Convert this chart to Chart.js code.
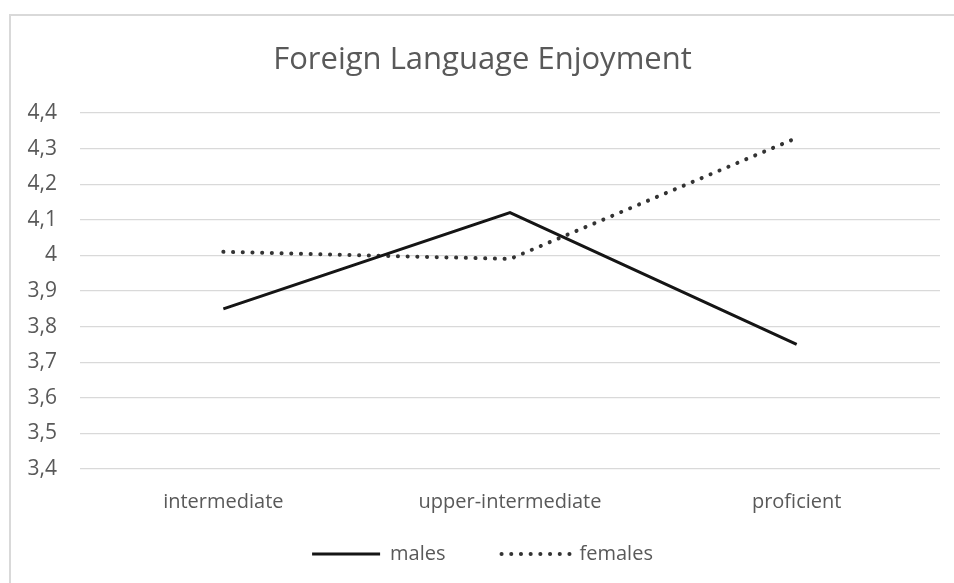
<!DOCTYPE html>
<html>
<head>
<meta charset="utf-8">
<script src="https://cdn.jsdelivr.net/npm/chart.js@4.4.0/dist/chart.umd.min.js"></script>
<style>
    html, body { margin: 0; padding: 0; background: #fff; overflow: hidden; width: 954px; height: 583px; }
    #frame { position: absolute; left: 9px; top: 14px; border: 2px solid #d9d9d9; width: 954px; height: 583px; background: #fff; }
    canvas { display: block; }
</style>
</head>
<body>
<div id="frame">
    <canvas id="chart" width="954" height="583"></canvas>
</div>
<script>
// values
var levels = ['intermediate', 'upper-intermediate', 'proficient'];
var males = [3.85, 4.12, 3.75];
var females = [4.01, 3.99, 4.33];
var yTickValues = [3.4, 3.5, 3.6, 3.7, 3.8, 3.9, 4.0, 4.1, 4.2, 4.3, 4.4];
var yTickLabels = ['3,4', '3,5', '3,6', '3,7', '3,8', '3,9', '4', '4,1', '4,2', '4,3', '4,4'];

const textColor = '#595959';
const fontName = "'Open Sans', sans-serif";

ctx = document.getElementById('chart');
new Chart(ctx, {
    type: 'line',
    data: {
        labels: levels,
        datasets: [
            {
                label: 'males',
                data: males,
                borderColor: '#151515',
                backgroundColor: '#151515',
                borderWidth: 3,
                pointRadius: 0,
                tension: 0
            },
            {
                label: 'females',
                data: females,
                borderColor: '#333333',
                backgroundColor: '#333333',
                borderWidth: 4,
                borderDash: [0.1, 9.6],
                borderCapStyle: 'round',
                pointRadius: 0,
                tension: 0
            }
        ]
    },
    options: {
        responsive: false,
        animation: false,
        layout: {
            padding: { left: 14, right: 25, top: 0, bottom: 25 }
        },
        plugins: {
            title: {
                display: true,
                text: 'Foreign Language Enjoyment',
                color: textColor,
                font: { family: fontName, size: 31, weight: 'normal' },
                padding: { top: 25.4, bottom: 34.4 }
            },
            legend: {
                position: 'bottom',
                labels: {
                    color: textColor,
                    font: { family: fontName, size: 20 },
                    usePointStyle: true,
                    pointStyle: 'line',
                    pointStyleWidth: 68,
                    padding: 30,
                    generateLabels: function (chart) {
                        let items = Chart.defaults.plugins.legend.labels.generateLabels(chart);
                        items.forEach(function (item, i) {
                            let ds = chart.data.datasets[i];
                            item.strokeStyle = ds.borderColor;
                            item.lineWidth = ds.borderWidth;
                            item.lineDash = ds.borderDash || [];
                            item.lineCap = ds.borderCapStyle || 'butt';
                        });
                        // extra room after the first entry, like the gap in the original legend
                        items[0].text = items[0].text + '     ';
                        return items;
                    }
                }
            },
            tooltip: { enabled: false }
        },
        scales: {
            x: {
                offset: true,
                grid: { display: false, drawTicks: false },
                border: { display: false },
                ticks: {
                    color: textColor,
                    font: { family: fontName, size: 20 },
                    padding: 21,
                    maxRotation: 0
                },
                afterFit: function (scale) {
                    scale.height = 45;
                }
            },
            y: {
                min: 3.4,
                max: 4.4,
                grid: { color: '#d9d9d9', lineWidth: 1.3, drawTicks: false },
                border: { display: false },
                ticks: {
                    color: textColor,
                    font: { family: fontName, size: 21 },
                    padding: 23,
                    callback: function (value, index) {
                        return yTickLabels[index];
                    }
                },
                afterBuildTicks: function (scale) {
                    scale.ticks = yTickValues.map(function (v) { return { value: v }; });
                },
                afterFit: function (scale) {
                    scale.width = 55;
                }
            }
        }
    }
});
</script>
</body>
</html>
